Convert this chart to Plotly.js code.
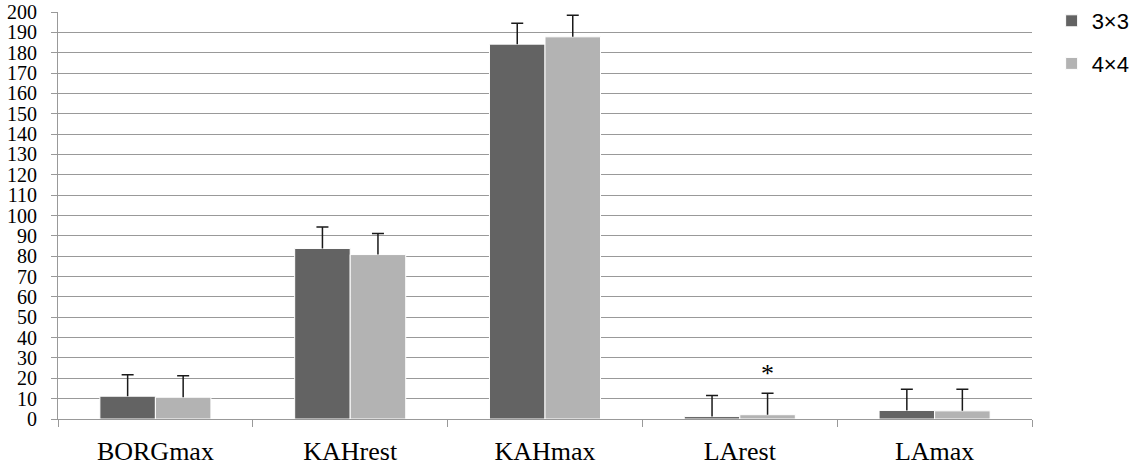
<!DOCTYPE html>
<html>
<head>
<meta charset="utf-8">
<script src="https://cdn.plot.ly/plotly-3.0.1.min.js"></script>
<style>html,body{margin:0;padding:0;background:#fff;}#chart{width:1132px;height:468px;}</style>
</head>
<body>
<div id="chart"></div>
<script>
const categories = ["BORGmax", "KAHrest", "KAHmax", "LArest", "LAmax"];
const seriesNames = ["3×3", "4×4"];
const values3x3 = [11.2, 83.8, 184.2, 1.2, 4.2];
const values4x4 = [10.7, 80.8, 187.8, 2.1, 4.0];
const err3x3 = [10.6, 10.6, 10.3, 10.3, 10.4];
const err4x4 = [10.5, 10.4, 10.6, 10.6, 10.6];
const yTicks = [0,10,20,30,40,50,60,70,80,90,100,110,120,130,140,150,160,170,180,190,200];
const marker = {category: "LArest", value: 22.5, text: "*"};

const errStyle = {type: "data", symmetric: false, color: "#1a1a1a", thickness: 1.5, width: 6};
const traces = [
  {type: "bar", name: seriesNames[0], x: categories, y: values3x3,
   marker: {color: "#636363", line: {color: "#ffffff", width: 1}},
   error_y: Object.assign({array: err3x3, arrayminus: err3x3.map(() => 0)}, errStyle),
   legendgroup: "a"},
  {type: "bar", name: seriesNames[1], x: categories, y: values4x4,
   marker: {color: "#b3b3b3", line: {color: "#ffffff", width: 1}},
   error_y: Object.assign({array: err4x4, arrayminus: err4x4.map(() => 0)}, errStyle),
   legendgroup: "b"}
];

const layout = {
  width: 1132, height: 468,
  margin: {l: 58, r: 100, t: 12, b: 48.5, pad: 0, autoexpand: false},
  paper_bgcolor: "#fff", plot_bgcolor: "#fff",
  barmode: "group", bargap: 0.43, bargroupgap: 0,
  font: {family: "Liberation Serif, Times New Roman, serif", color: "#000"},
  xaxis: {
    type: "category", tickson: "boundaries", ticks: "outside", ticklen: 7,
    tickcolor: "#999", showgrid: false, showline: true, linecolor: "#999", linewidth: 1,
    tickfont: {size: 26, family: "Liberation Serif"}, ticklabelstandoff: 9,
    fixedrange: true
  },
  yaxis: {
    range: [0, 200], tickmode: "array", tickvals: yTicks, ticktext: yTicks.map(String),
    ticks: "outside", ticklen: 6, tickcolor: "#999", showgrid: true, gridcolor: "#999",
    gridwidth: 1, showline: true, linecolor: "#999", linewidth: 1, zeroline: false,
    tickfont: {size: 20, family: "Liberation Serif"}, ticklabelstandoff: 10,
    fixedrange: true
  },
  legend: {
    xref: "container", yref: "container",
    x: 0.929, y: 1.025, xanchor: "left", yanchor: "top",
    font: {size: 22, family: "Liberation Sans, Arial, sans-serif"},
    traceorder: "grouped", tracegroupgap: 11, itemwidth: 30, bgcolor: "rgba(0,0,0,0)"
  },
  annotations: [{
    x: marker.category, y: marker.value, xref: "x", yref: "y", text: marker.text,
    showarrow: false, xshift: 28, font: {size: 26, family: "Liberation Serif"}
  }]
};

Plotly.newPlot("chart", traces, layout, {displayModeBar: false, staticPlot: true}).then(function (gd) {
  // keep only the upper whisker and cap (no cross-bar at the bar top)
  gd.querySelectorAll("g.errorbar path").forEach(function (p) {
    const d = p.getAttribute("d");
    if (d) p.setAttribute("d", d.replace(/(V[-\d.e]+)m-[\d.e]+,0h[\d.e]+\s*$/, "$1"));
  });
});
</script>
</body>
</html>
